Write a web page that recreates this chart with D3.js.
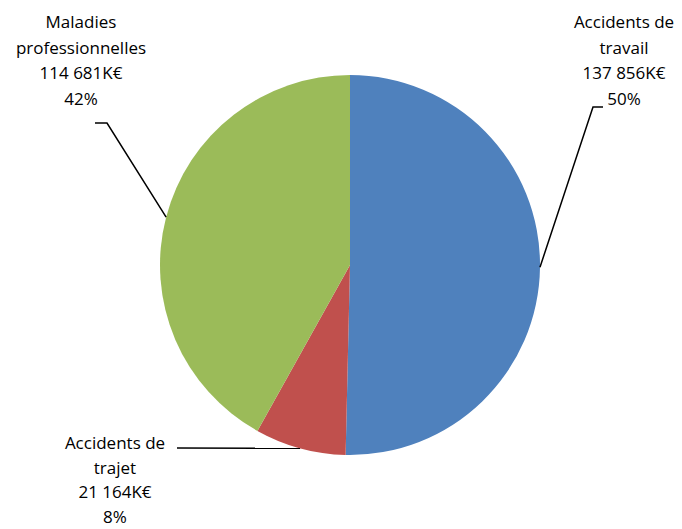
<!DOCTYPE html>
<html lang="fr">
<head>
<meta charset="utf-8">
<script src="https://d3js.org/d3.v7.min.js"></script>
<style>
  body { margin: 0; background: #fff; }
  svg { display: block; }
  .lbl { font-family: "Open Sans", sans-serif; font-size: 17px; fill: #000; }
</style>
</head>
<body>
<svg width="682" height="529"></svg>
<script>
// data
const categories = ["Accidents de travail", "Accidents de trajet", "Maladies professionnelles"];
const labelLines = [["Accidents de", "travail"], ["Accidents de", "trajet"], ["Maladies", "professionnelles"]];
const values = [137856, 21164, 114681];
const colors = ["#4F81BD", "#C0504D", "#9BBB59"];

const svg = d3.select("svg");
const cx = 350, cy = 265, r = 190;

const pie = d3.pie().sort(null).value(d => d.v);
const arcs = pie(values.map((v, i) => ({v: v, i: i})));
const arc = d3.arc().innerRadius(0).outerRadius(r);
const edge = d3.arc().innerRadius(r).outerRadius(r);
const total = d3.sum(values);

const fr = d3.formatLocale({decimal: ",", thousands: " ", grouping: [3], currency: ["", "€"]});
const fmtNum = fr.format(",d");
const fmtPct = d3.format(".0%");

const g = svg.append("g").attr("transform", `translate(${cx},${cy})`);
g.selectAll("path.slice")
  .data(arcs)
  .join("path")
  .attr("class", "slice")
  .attr("d", arc)
  .attr("fill", d => colors[d.data.i]);

// label placement (text centre x, first line y, line step) and leader elbows
const layout = [
  {tx: 624, ty: 28, step: 25.5, pts: [[603, 107], [593, 107]]},
  {tx: 115, ty: 449, step: 24.5, pts: [[177, 448]]},
  {tx: 81, ty: 28, step: 25.5, pts: [[95, 123], [107, 123]]}
];

arcs.forEach((d, k) => {
  const L = layout[k];
  const c = edge.centroid(d);
  const p0 = [cx + c[0], cy + c[1]];
  const pts = L.pts.concat([p0]);
  svg.append("path")
    .attr("d", d3.line()(pts))
    .attr("fill", "none")
    .attr("stroke", "#000")
    .attr("stroke-width", 1.5);

  const lines = labelLines[k].concat([fmtNum(values[k]) + "K€", fmtPct(values[k] / total)]);
  const t = svg.append("text")
    .attr("class", "lbl")
    .attr("text-anchor", "middle");
  lines.forEach((s, j) => {
    t.append("tspan")
      .attr("x", L.tx)
      .attr("y", L.ty + j * L.step)
      .text(s);
  });
});
</script>
</body>
</html>
